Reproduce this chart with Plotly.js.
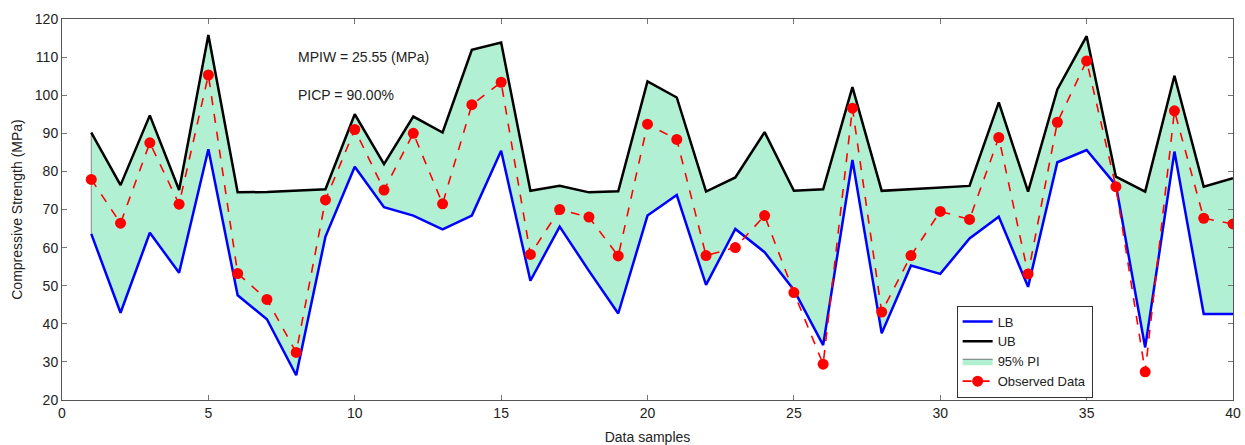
<!DOCTYPE html>
<html>
<head>
<meta charset="utf-8">
<script src="https://cdn.plot.ly/plotly-3.0.1.min.js"></script>
<style>html,body{margin:0;padding:0;background:#fff;}#chart{width:1245px;height:445px;}</style>
</head>
<body>
<div id="chart"></div>
<script>
const samples = [1,2,3,4,5,6,7,8,9,10,11,12,13,14,15,16,17,18,19,20,21,22,23,24,25,26,27,28,29,30,31,32,33,34,35,36,37,38,39,40];
const upperBound = [90.2,76.4,94.7,75.1,115.8,74.5,74.6,74.9,75.3,95.0,81.9,94.4,90.2,111.9,113.8,74.9,76.2,74.5,74.8,103.6,99.4,74.7,78.4,90.3,74.9,75.3,102.1,74.9,75.3,75.8,76.2,98.1,74.7,101.5,115.5,78.6,74.7,105.1,76.0,78.2];
const lowerBound = [63.6,42.9,63.9,53.4,85.8,47.5,41.2,26.5,62.9,81.2,70.6,68.4,64.8,68.4,85.4,51.3,65.5,53.9,42.7,68.4,73.8,50.2,64.9,58.8,48.9,34.4,83.0,37.5,55.3,53.1,62.4,68.1,49.7,82.4,85.6,76.4,33.8,85.2,42.6,42.6];
const observed = [77.9,66.4,87.5,71.4,105.3,53.2,46.4,32.5,72.5,91.0,75.1,90.0,71.5,97.5,103.4,58.2,70.0,68.0,57.8,92.4,88.4,57.9,60.0,68.4,48.2,29.4,96.6,43.1,57.9,69.5,67.4,88.9,53.1,92.9,109.0,76.0,27.4,95.9,67.7,66.2];
const xTicks = [0,5,10,15,20,25,30,35,40];
const yTicks = [20,30,40,50,60,70,80,90,100,110,120];
const annotationLines = ["MPIW = 25.55 (MPa)", "PICP = 90.00%"];

const font = "Arial, 'Liberation Sans', sans-serif";
const fillColor = "rgb(178,240,212)";

const traces = [
  {x: samples, y: lowerBound, mode: "lines", line: {width: 0, color: fillColor}, showlegend: false, hoverinfo: "skip"},
  {x: samples, y: upperBound, mode: "lines", fill: "tonexty", fillcolor: fillColor,
   line: {width: 0.8, color: "#555"}, name: "95% PI", legendrank: 3},
  {x: [samples[0], samples[0]], y: [lowerBound[0], upperBound[0]], mode: "lines",
   line: {width: 1, color: "#888"}, showlegend: false, hoverinfo: "skip"},
  {x: samples, y: lowerBound, mode: "lines", line: {width: 2.5, color: "#0000ff"}, name: "LB", legendrank: 1},
  {x: samples, y: upperBound, mode: "lines", line: {width: 2.5, color: "#000000"}, name: "UB", legendrank: 2},
  {x: samples, y: observed, mode: "lines+markers", line: {width: 1.6, color: "#ff0000", dash: "dash"},
   marker: {size: 11, color: "#ff0000"}, name: "Observed Data", legendrank: 4}
];

const axisCommon = {
  showline: true, mirror: "ticks", linecolor: "#555", linewidth: 1,
  ticks: "inside", ticklen: 5, tickcolor: "#777", showgrid: false, zeroline: false,
  tickfont: {family: font, size: 14, color: "#222"}
};

const layout = {
  width: 1245, height: 445,
  margin: {l: 62, r: 12, t: 19, b: 45},
  paper_bgcolor: "#fff", plot_bgcolor: "#fff",
  font: {family: font, color: "#222"},
  xaxis: Object.assign({}, axisCommon, {range: [0, 40], tickvals: xTicks, ticktext: xTicks.map(String),
    title: {text: "Data samples", font: {family: font, size: 14, color: "#222"}, standoff: 12}}),
  yaxis: Object.assign({}, axisCommon, {range: [20, 120], tickvals: yTicks, ticktext: yTicks.map(String),
    title: {text: "Compressive Strength (MPa)", font: {family: font, size: 14, color: "#222"}, standoff: 8}}),
  showlegend: true,
  legend: {x: 0.764, y: 0.248, xanchor: "left", yanchor: "top", bgcolor: "#fff",
    bordercolor: "#333", borderwidth: 1, font: {family: font, size: 13, color: "#222"},
    traceorder: "normal", tracegroupgap: 0, itemwidth: 30},
  annotations: [
    {x: 8, y: 110, xref: "x", yref: "y", text: annotationLines[0], showarrow: false, xanchor: "left",
     font: {family: font, size: 14, color: "#222"}},
    {x: 8, y: 100, xref: "x", yref: "y", text: annotationLines[1], showarrow: false, xanchor: "left",
     font: {family: font, size: 14, color: "#222"}}
  ]
};

Plotly.newPlot("chart", traces, layout, {displayModeBar: false, staticPlot: true});
</script>
</body>
</html>
